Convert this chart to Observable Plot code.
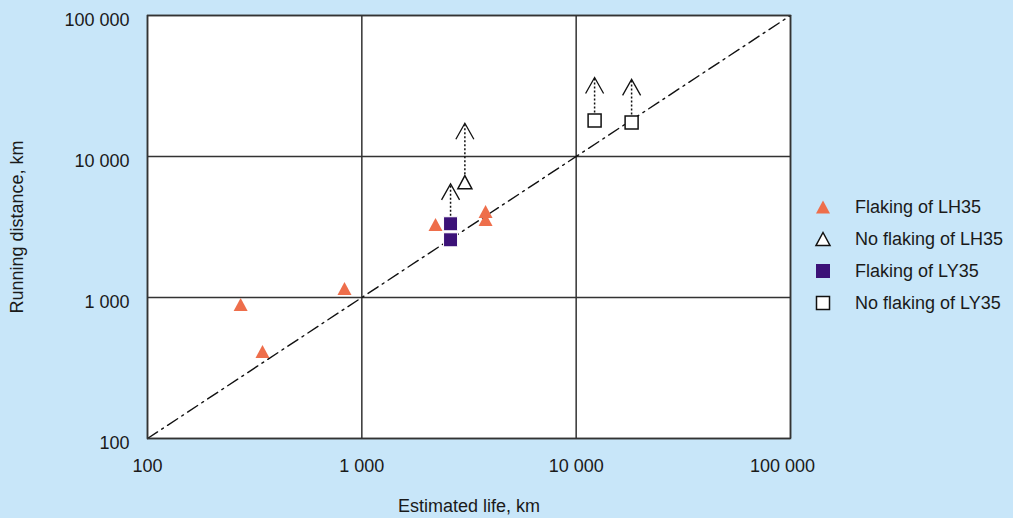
<!DOCTYPE html>
<html><head><meta charset="utf-8">
<script src="https://cdn.jsdelivr.net/npm/d3@7"></script>
<script src="https://cdn.jsdelivr.net/npm/@observablehq/plot@0.6"></script>
<style>
html,body{margin:0;padding:0;background:#c8e6f9;}
#wrap{position:relative;width:1013px;height:518px;font-family:"Liberation Sans",Arial,sans-serif;}
#legend{position:absolute;left:812px;top:191px;font-size:18px;color:#1a1a1a;}
#legend .row{display:flex;align-items:center;height:32px;}
#legend svg{width:22px;height:22px;margin-right:21px;}
</style></head>
<body><div id="wrap"><div id="legend"></div></div>
<script>
// ---- data ----
const lh35FlakingLife = [272, 344, 830, 2207, 3778, 3778];
const lh35FlakingDist = [892, 414, 1158, 3294, 4074, 3574];

const lh35NoFlakingLife = [3025];
const lh35NoFlakingDist = [6573];
const lh35NoFlakingArrowTip = [17220];

const ly35FlakingLife = [2594, 2594];
const ly35FlakingDist = [3333, 2566];
const ly35ArrowLife = [2594];
const ly35ArrowFrom = [3333];
const ly35ArrowTip = [6402];

const ly35NoFlakingLife = [12190, 18140];
const ly35NoFlakingDist = [17990, 17420];
const ly35NoFlakingArrowTip = [36300, 35200];

const refLineLife = [100, 100000];
const refLineDist = [100, 100000];

const xTicks = [100, 1000, 10000, 100000];
const yTicks = [100, 1000, 10000, 100000];

const legendLabels = ["Flaking of LH35", "No flaking of LH35", "Flaking of LY35", "No flaking of LY35"];

// ---- styles ----
const ORANGE = "#ee6e4b";
const PURPLE = "#3c1278";
const INK = "#1a1a1a";

const fmt = d3.formatLocale({decimal: ".", thousands: " ", grouping: [3], currency: ["", ""]}).format(",");

const triangle = {draw(c) { c.moveTo(0, -6.5); c.lineTo(7, 6.5); c.lineTo(-7, 6.5); c.closePath(); }};
const square = {draw(c) { c.moveTo(-7, -7); c.lineTo(7, -7); c.lineTo(7, 7); c.lineTo(-7, 7); c.closePath(); }};
const openSquare = {draw(c) { c.moveTo(-6.5, -6.5); c.lineTo(6.5, -6.5); c.lineTo(6.5, 6.5); c.lineTo(-6.5, 6.5); c.closePath(); }};
const chevron = {draw(c) { c.moveTo(-9, 16); c.lineTo(0, 0); c.lineTo(9, 16); }};

const zip = (a, b) => a.map((v, i) => ({x: v, y: b[i]}));
const arrows = [
  ...lh35NoFlakingLife.map((x, i) => ({x, y1: lh35NoFlakingDist[i], y2: lh35NoFlakingArrowTip[i]})),
  ...ly35ArrowLife.map((x, i) => ({x, y1: ly35ArrowFrom[i], y2: ly35ArrowTip[i]})),
  ...ly35NoFlakingLife.map((x, i) => ({x, y1: ly35NoFlakingDist[i], y2: ly35NoFlakingArrowTip[i]}))
];

const chart = Plot.plot({
  width: 1013, height: 518,
  marginLeft: 147, marginRight: 223, marginTop: 15, marginBottom: 80,
  style: {background: "transparent", fontFamily: "'Liberation Sans', Arial, sans-serif", fontSize: "18px", color: INK},
  x: {type: "log", domain: [100, 100000], ticks: xTicks, tickFormat: fmt, label: null},
  y: {type: "log", domain: [100, 100000], ticks: yTicks, tickFormat: fmt, label: null},
  marks: [
    Plot.frame({fill: "white", stroke: null}),
    Plot.gridX(xTicks, {stroke: "#333", strokeOpacity: 1, strokeWidth: 1.5}),
    Plot.gridY(yTicks, {stroke: "#333", strokeOpacity: 1, strokeWidth: 1.5}),
    Plot.line(zip(refLineLife, refLineDist), {x: "x", y: "y", stroke: "#111", strokeWidth: 1.4, strokeDasharray: "12,5,2,5"}),
    Plot.link(arrows, {x1: "x", x2: "x", y1: "y1", y2: "y2", stroke: "#111", strokeWidth: 1.5, strokeDasharray: "2,2"}),
    Plot.dot(arrows, {x: "x", y: "y2", symbol: chevron, fill: "none", stroke: "#111", strokeWidth: 1.3}),
    Plot.dot(zip(lh35FlakingLife, lh35FlakingDist), {x: "x", y: "y", symbol: triangle, fill: ORANGE, stroke: "none"}),
    Plot.dot(zip(lh35NoFlakingLife, lh35NoFlakingDist), {x: "x", y: "y", symbol: triangle, fill: "white", stroke: "#111", strokeWidth: 1.5}),
    Plot.dot(zip(ly35FlakingLife, ly35FlakingDist), {x: "x", y: "y", symbol: square, fill: PURPLE, stroke: "white", strokeWidth: 1}),
    Plot.dot(zip(ly35NoFlakingLife, ly35NoFlakingDist), {x: "x", y: "y", symbol: openSquare, fill: "white", stroke: "#111", strokeWidth: 1.5}),
    Plot.frame({stroke: "#333", strokeWidth: 1.5}),
    Plot.axisX(xTicks.slice(0, -1), {tickSize: 0, tickPadding: 21, tickFormat: fmt, label: "Estimated life, km", labelAnchor: "center", labelOffset: 73, labelArrow: "none"}),
    Plot.axisX(xTicks.slice(-1), {tickSize: 0, tickPadding: 21, tickFormat: fmt, dx: -8, label: null}),
    Plot.axisY(yTicks, {tickSize: 0, tickPadding: 18, tickFormat: fmt, dy: 5, label: "Running distance, km", labelAnchor: "center", labelOffset: 137, labelArrow: "none"})
  ]
});
document.getElementById("wrap").prepend(chart);

// ---- legend ----
const legendSymbols = [
  '<path d="M11,4.5L18,17.5L4,17.5Z" fill="' + ORANGE + '"/>',
  '<path d="M11,4.5L18,17.5L4,17.5Z" fill="white" stroke="#111" stroke-width="1.5"/>',
  '<rect x="4" y="4" width="14" height="14" fill="' + PURPLE + '"/>',
  '<rect x="4.5" y="4.5" width="13" height="13" fill="white" stroke="#111" stroke-width="1.5"/>'
];
const legend = document.getElementById("legend");
legendLabels.forEach((label, i) => {
  const row = document.createElement("div");
  row.className = "row";
  row.innerHTML = '<svg viewBox="0 0 22 22">' + legendSymbols[i] + '</svg><span>' + label + '</span>';
  legend.appendChild(row);
});
</script>
</body></html>
